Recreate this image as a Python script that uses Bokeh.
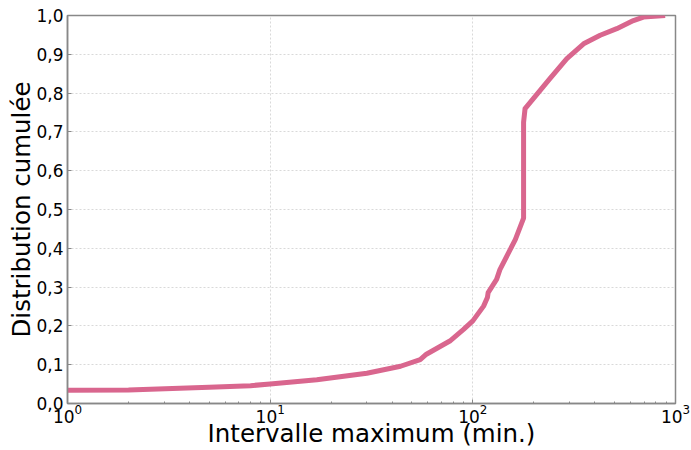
from bokeh.plotting import figure
from bokeh.models import FixedTicker, LogTickFormatter, CustomJSTickFormatter, Range1d
from bokeh.embed import file_html
from bokeh.resources import INLINE

# Cumulative distribution of the maximum interval (minutes)
interval_min = [1, 2, 5, 8, 10, 17, 30, 44, 55, 59, 77, 90, 100, 113, 118, 119,
                131, 136, 162, 178, 178, 181, 240, 291, 352, 425, 513, 620, 695, 889]
cum_dist = [0.034, 0.035, 0.042, 0.046, 0.050, 0.061, 0.078, 0.096, 0.113, 0.127,
            0.161, 0.191, 0.213, 0.251, 0.273, 0.286, 0.320, 0.345, 0.4225, 0.478,
            0.725, 0.760, 0.8375, 0.889, 0.927, 0.949, 0.966, 0.987, 0.996, 1.0]

x_major = [1, 10, 100, 1000]
x_minor = [m * d for d in (1, 10, 100) for m in range(2, 10)]
y_major = [i / 10 for i in range(11)]

FONT = "DejaVu Sans"
FRAME = "#888888"

p = figure(width=691, height=450, x_axis_type="log",
           x_range=Range1d(1, 1000), y_range=Range1d(0, 1),
           output_backend="svg", toolbar_location=None,
           min_border_left=67, min_border_right=16,
           min_border_top=15, min_border_bottom=46)

p.line(interval_min, cum_dist, line_color="#d9668e", line_width=5,
       line_join="round")

p.outline_line_color = FRAME
p.outline_line_width = 1.5

xa = p.xaxis[0]
xa.ticker = FixedTicker(ticks=x_major, minor_ticks=x_minor)
xa.formatter = LogTickFormatter()
xa.axis_label = "Intervalle maximum (min.)"

ya = p.yaxis[0]
ya.ticker = FixedTicker(ticks=y_major)
ya.formatter = CustomJSTickFormatter(code="return tick.toFixed(1).replace('.', ',');")
ya.axis_label = "Distribution cumulée"

for ax in (xa, ya):
    ax.axis_line_color = FRAME
    ax.axis_line_width = 1.5
    ax.major_tick_line_color = FRAME
    ax.minor_tick_line_color = FRAME
    ax.major_tick_in = 4
    ax.major_tick_out = 0
    ax.minor_tick_in = 2
    ax.minor_tick_out = 0
    ax.major_label_text_font = FONT
    ax.major_label_text_font_size = "17px"
    ax.major_label_text_color = "black"
    ax.axis_label_text_font = FONT
    ax.axis_label_text_font_size = "24.5px"
    ax.axis_label_text_font_style = "normal"
    ax.axis_label_text_color = "black"
ya.minor_tick_line_color = None

xa.major_label_standoff = 0
xa.axis_label_standoff = -7
ya.major_label_standoff = 4
ya.axis_label_standoff = -3

p.xgrid.ticker = FixedTicker(ticks=x_major)
p.ygrid.ticker = FixedTicker(ticks=y_major)
for g in (p.xgrid, p.ygrid):
    g.grid_line_color = "#d9d9d9"
    g.grid_line_dash = "2 2"
    g.grid_line_width = 1

open("out.html", "w").write(file_html(p, INLINE))
